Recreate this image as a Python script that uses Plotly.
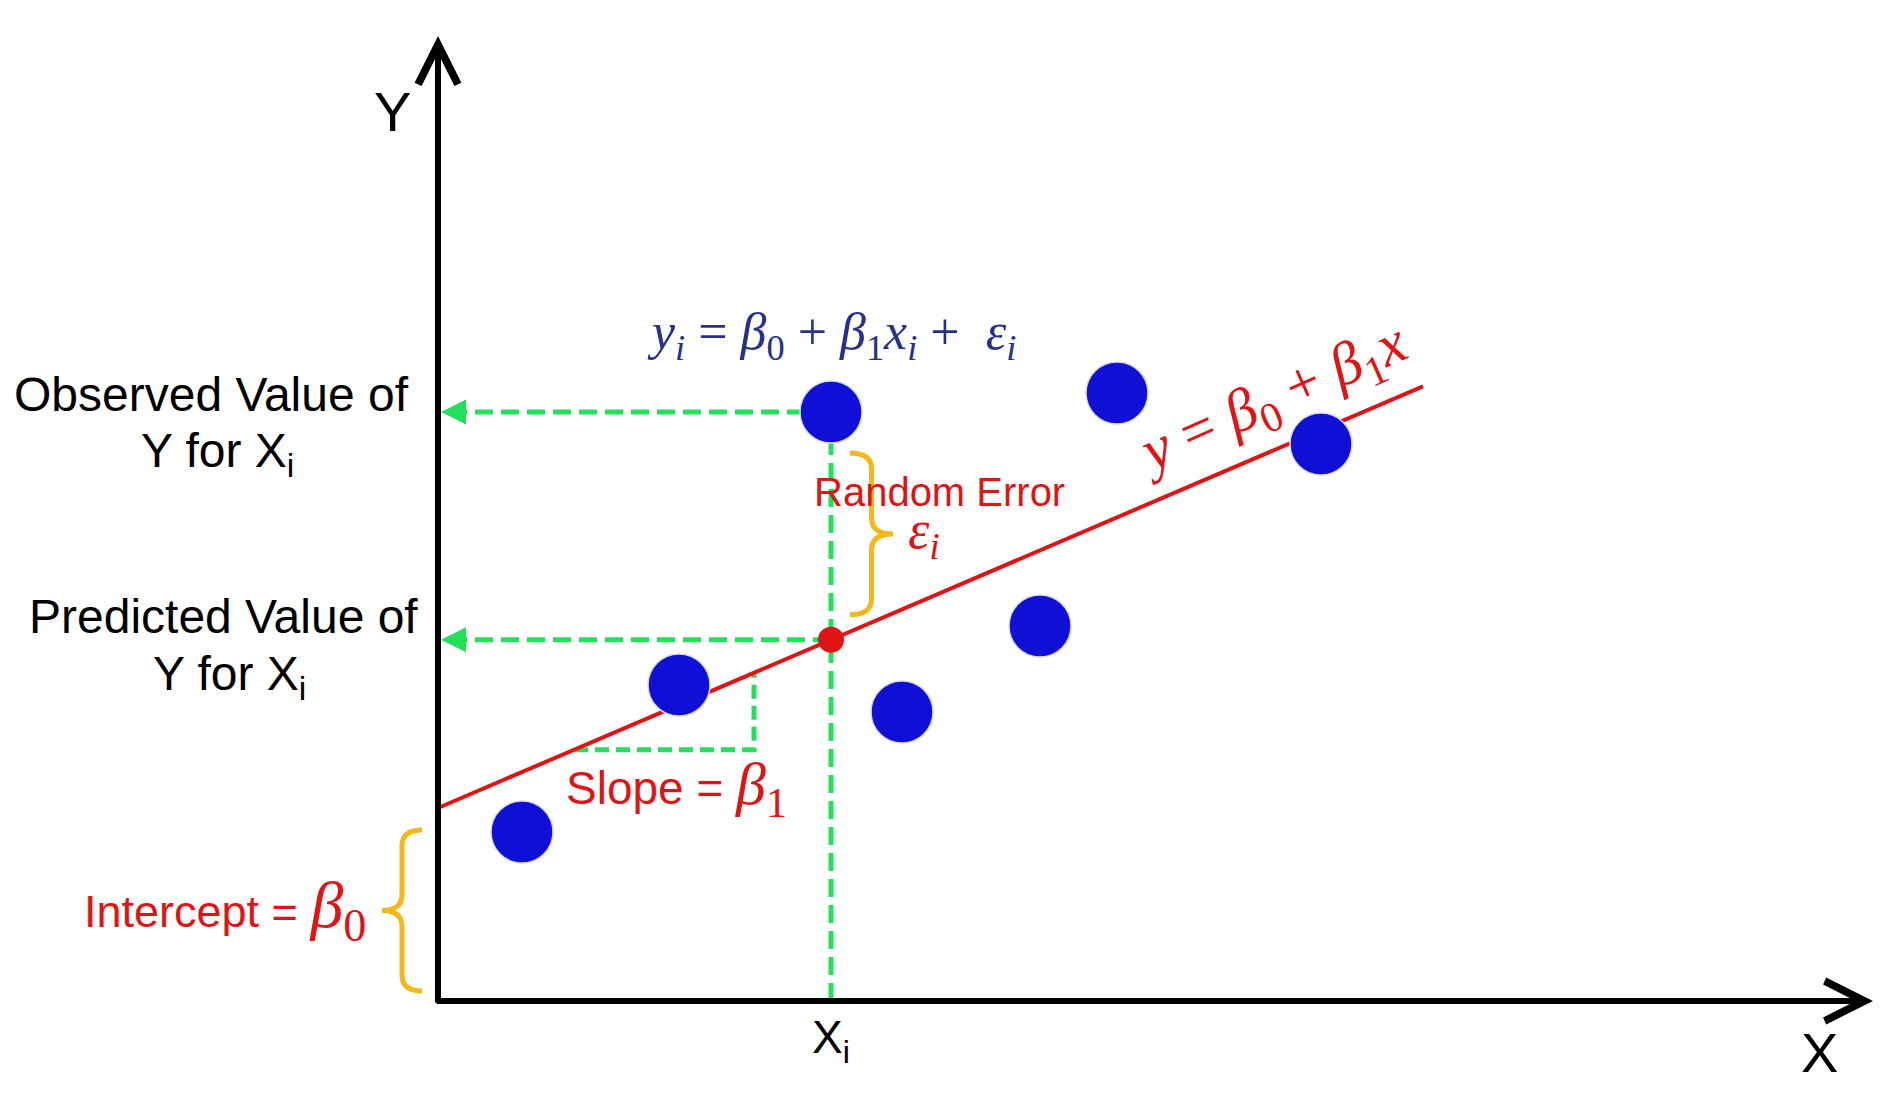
import plotly.graph_objects as go

# ---------------- data (diagram coordinates) ----------------
point_x = [0.84, 2.41, 3.93, 4.64, 6.02, 6.79, 8.83]
point_y = [1.69, 3.16, 5.89, 2.89, 3.75, 6.08, 5.57]
intercept = 1.93
slope = 0.428
line_x = [0.0, 9.85]
xi_index = 2
slope_run_x = [1.36, 3.16]
x_axis_end = 14.35
y_axis_end = 9.65

# ---------------- derived ----------------
xi = point_x[xi_index]
y_obs = point_y[xi_index]
y_pred = intercept + slope * xi
line_y = [intercept + slope * v for v in line_x]
tri_y = [intercept + slope * v for v in slope_run_x]

GREEN = "#22e05a"
RED = "#e01414"
BLUE = "#0f0fd6"
NAVY = "#27308c"
ORANGE = "#f6b71c"
SANS = "Liberation Sans, Arial, sans-serif"
SERIF = "Liberation Serif, Times New Roman, serif"

fig = go.Figure()

dash = "18px,8px"
# green dashed guides
for yv in [y_obs, y_pred]:
    fig.add_trace(go.Scatter(
        x=[xi, 0.0], y=[yv, yv], mode="lines",
        line=dict(color=GREEN, width=5, dash=dash), hoverinfo="skip"))
fig.add_trace(go.Scatter(
    x=[xi, xi], y=[0.0, y_obs], mode="lines",
    line=dict(color=GREEN, width=5, dash=dash), hoverinfo="skip"))
fig.add_trace(go.Scatter(
    x=[slope_run_x[0], slope_run_x[1], slope_run_x[1]],
    y=[tri_y[0], tri_y[0], tri_y[1]], mode="lines",
    line=dict(color=GREEN, width=5, dash="14px,7px"), hoverinfo="skip"))

# regression line
fig.add_trace(go.Scatter(x=line_x, y=line_y, mode="lines",
                         line=dict(color=RED, width=4), hoverinfo="skip"))
# observations
fig.add_trace(go.Scatter(x=point_x, y=point_y, mode="markers",
                         marker=dict(size=62, color=BLUE,
                                     line=dict(color="#d8d8e8", width=1.5)),
                         hoverinfo="skip"))
# predicted value dot
fig.add_trace(go.Scatter(x=[xi], y=[y_pred], mode="markers",
                         marker=dict(size=26, color=RED), hoverinfo="skip"))


def brace_path(x_end, x_tip, y_a, y_b):
    lo, hi = min(y_a, y_b), max(y_a, y_b)
    xm = (x_end + x_tip) / 2
    ym = (lo + hi) / 2
    r = min(0.16, (hi - lo) / 6)
    return (f"M {x_end},{hi} Q {xm},{hi} {xm},{hi - r} "
            f"L {xm},{ym + r} Q {xm},{ym} {x_tip},{ym} "
            f"Q {xm},{ym} {xm},{ym - r} "
            f"L {xm},{lo + r} Q {xm},{lo} {x_end},{lo}")


shapes = [
    dict(type="path", xref="x", yref="y",
         path=brace_path(-0.16, -0.56, 0.10, intercept - 0.22),
         line=dict(color=ORANGE, width=5)),
    dict(type="path", xref="x", yref="y",
         path=brace_path(xi + 0.19, xi + 0.62, y_obs - 0.41, y_pred + 0.25),
         line=dict(color=ORANGE, width=5)),
]

ann = []
# axes with arrows
ann.append(dict(x=0, y=y_axis_end, ax=0, ay=-0.03, xref="x", yref="y",
                axref="x", ayref="y", text="", showarrow=True, arrowhead=5,
                arrowsize=1.3, arrowwidth=6, arrowcolor="black"))
ann.append(dict(x=x_axis_end, y=0, ax=-0.03, ay=0, xref="x", yref="y",
                axref="x", ayref="y", text="", showarrow=True, arrowhead=5,
                arrowsize=1.3, arrowwidth=6, arrowcolor="black"))
# green arrow heads pointing at the Y axis
for yv in [y_obs, y_pred]:
    ann.append(dict(x=0.03, y=yv, ax=0.30, ay=yv, xref="x", yref="y",
                    axref="x", ayref="y", text="", showarrow=True, arrowhead=2,
                    arrowsize=1.0, arrowwidth=5, arrowcolor=GREEN))


def label(x, y, text, size, color="black", family=SANS, **kw):
    d = dict(x=x, y=y, xref="x", yref="y", text=text, showarrow=False,
             font=dict(size=size, color=color, family=family))
    d.update(kw)
    ann.append(d)


label(-0.46, 8.90, "Y", 56)
label(13.81, -0.51, "X", 56)
label(xi, -0.39, "X<sub>i</sub>", 46)
label(-2.27, y_obs + 0.18, "Observed Value of", 48)
label(-2.21, y_obs - 0.42, "Y for X<sub>i</sub>", 48)
label(-2.15, y_pred + 0.23, "Predicted Value of", 48)
label(-2.09, y_pred - 0.37, "Y for X<sub>i</sub>", 48)

beta = lambda sub, size: (f"<span style='font-family:{SERIF};font-size:{size}px'>"
                          f"<i>β</i><sub>{sub}</sub></span>")
label(-0.70, intercept / 2 - 0.05, "Intercept = " + beta(0, 66), 45, color=RED,
      xanchor="right")
label(1.26, 2.13, "Slope = " + beta(1, 60), 46, color=RED, xanchor="left")
label(5.01, 5.09, "Random Error", 40, color=RED)
label(4.86, 4.68, "<i>ε<sub>i</sub></i>", 54, color=RED, family=SERIF)
label(xi, 6.66,
      "<i>y<sub>i</sub></i> = <i>β</i><sub>0</sub> + <i>β</i><sub>1</sub><i>x<sub>i</sub></i>"
      " +  <i>ε<sub>i</sub></i>",
      52, color=NAVY, family=SERIF)
label(8.34, 6.00, "<i>y</i> = <i>β</i><sub>0</sub> + <i>β</i><sub>1</sub><i>x</i>", 60,
      color=RED, family=SERIF, textangle=-24)

fig.update_layout(
    width=1891, height=1106, margin=dict(l=0, r=0, t=0, b=0),
    paper_bgcolor="white", plot_bgcolor="white", showlegend=False,
    xaxis=dict(range=[-4.38, 14.53], visible=False, fixedrange=True),
    yaxis=dict(range=[-1.05, 10.01], visible=False, fixedrange=True),
    shapes=shapes, annotations=ann,
)

fig.write_html("out.html", config={"displayModeBar": False},
               post_script="document.body.style.margin='0';document.body.style.overflow='hidden';")
